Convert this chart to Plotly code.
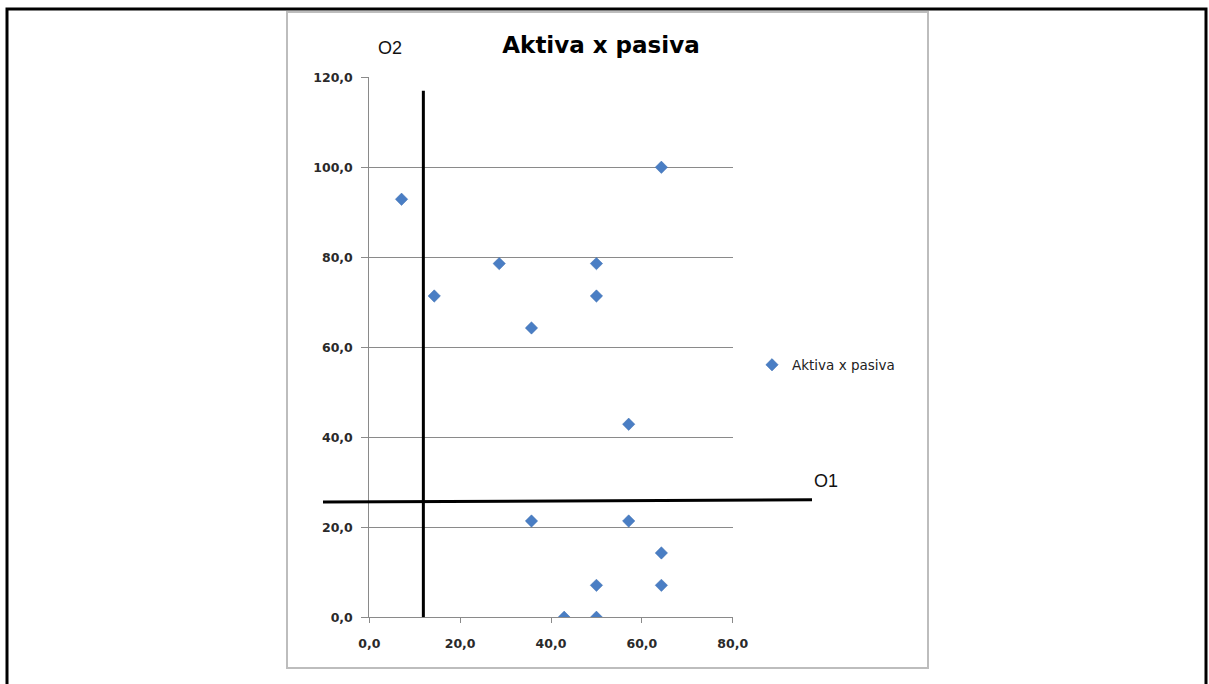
import plotly.graph_objects as go

# --- data -------------------------------------------------------------
series_name = "Aktiva x pasiva"
aktiva = [7.1, 14.3, 28.6, 35.7, 50.0, 50.0, 64.3, 57.1, 35.7, 57.1, 64.3, 64.3, 50.0, 42.9, 50.0]
pasiva = [92.9, 71.4, 78.6, 64.3, 78.6, 71.4, 100.0, 42.9, 21.4, 21.4, 14.3, 7.1, 7.1, 0.0, 0.0]

x_ticks = [0, 20, 40, 60, 80]
y_ticks = [0, 20, 40, 60, 80, 100, 120]

# quadrant dividers (O1 horizontal, O2 vertical), in data units
o1_level = [25.6, 26.1]      # left / right end height of O1
o2_level = 11.9              # position of O2 on the x axis
o2_top = 117.0

W, H = 1209, 684


def px(x):
    return x / W


def py(y):
    return 1 - y / H


BLUE = "#4a7ec4"
GRID = "#8a8a8a"

fig = go.Figure()
fig.add_trace(go.Scatter(
    x=aktiva, y=pasiva, mode="markers", name=series_name,
    marker=dict(symbol="diamond", size=9.5, color=BLUE,
                line=dict(width=0.5, color="#3f6fb0")),
))

shapes = [
    # outer frame
    dict(type="rect", xref="paper", yref="paper",
         x0=px(7), x1=px(1206), y0=py(700), y1=py(9),
         line=dict(color="black", width=3), layer="below"),
    # chart area border
    dict(type="rect", xref="paper", yref="paper",
         x0=px(287), x1=px(928), y0=py(668), y1=py(12),
         line=dict(color="#bdbdbd", width=2), layer="below"),
    # O2 vertical divider
    dict(type="line", xref="x", yref="y",
         x0=o2_level, x1=o2_level, y0=0, y1=o2_top,
         line=dict(color="black", width=3)),
    # O1 horizontal divider
    dict(type="line", xref="paper", yref="y",
         x0=px(323), x1=px(812), y0=o1_level[0], y1=o1_level[1],
         line=dict(color="black", width=3)),
]

annotations = [
    dict(text="O1", xref="paper", yref="paper", x=px(812), y=py(481),
         xanchor="left", yanchor="middle", showarrow=False,
         font=dict(family="Liberation Sans, Arial", size=18, color="#111")),
    dict(text="O2", xref="paper", yref="paper", x=px(390), y=py(48),
         xanchor="center", yanchor="middle", showarrow=False,
         font=dict(family="Liberation Sans, Arial", size=18, color="#111")),
]

tick_font = dict(family="DejaVu Sans", size=12.5, color="#2a2a2a", weight="bold")

fig.update_layout(
    width=W, height=H,
    margin=dict(l=0, r=0, t=0, b=0, autoexpand=False),
    paper_bgcolor="white", plot_bgcolor="white",
    separators=",.",
    title=dict(text="<b>Aktiva x pasiva</b>", x=px(601), y=py(45),
               xref="paper", yref="container",
               xanchor="center", yanchor="middle",
               font=dict(family="DejaVu Sans", size=23, color="black")),
    xaxis=dict(domain=[px(369.3), px(732.7)], range=[0, 80], automargin=False,
               tickvals=x_ticks, tickformat=".1f",
               showgrid=False, zeroline=False,
               showline=True, linecolor=GRID, linewidth=1,
               ticks="outside", ticklen=5, tickcolor=GRID,
               ticklabelstandoff=10, tickfont=tick_font),
    yaxis=dict(domain=[py(617.3), py(77.3)], range=[0, 120], automargin=False,
               tickvals=y_ticks, tickformat=".1f",
               showgrid=True, gridcolor=GRID, gridwidth=1, zeroline=False,
               showline=True, linecolor=GRID, linewidth=1,
               ticks="outside", ticklen=7, tickcolor=GRID,
               ticklabelstandoff=6, tickfont=tick_font),
    showlegend=True,
    legend=dict(x=px(752), y=py(365), xanchor="left", yanchor="middle",
                bgcolor="rgba(0,0,0,0)", borderwidth=0,
                font=dict(family="DejaVu Sans", size=13.5, color="#222")),
    shapes=shapes,
    annotations=annotations,
)

fig.write_html("out.html")
